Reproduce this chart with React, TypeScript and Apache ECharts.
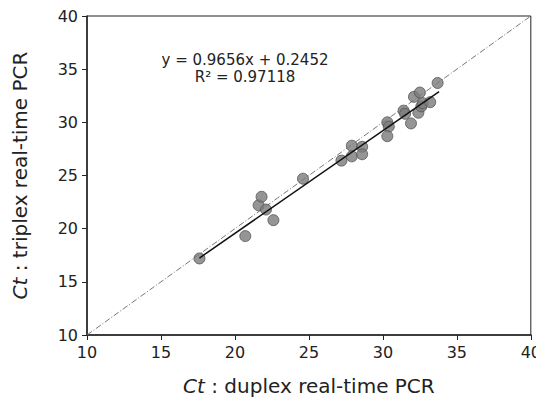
import React, { useEffect, useRef } from "react";
import * as echarts from "echarts";

const duplexCt = [17.6, 20.7, 21.6, 21.8, 22.1, 22.6, 24.6, 27.2, 27.9, 27.9, 28.6, 28.6, 30.3, 30.4, 30.3, 31.4, 31.5, 31.9, 32.1, 32.5, 32.4, 32.6, 32.7, 33.2, 33.7];
const triplexCt = [17.2, 19.3, 22.2, 23.0, 21.8, 20.8, 24.7, 26.4, 27.8, 26.8, 27.7, 27.0, 30.0, 29.6, 28.7, 31.1, 30.8, 29.9, 32.4, 32.8, 30.9, 31.5, 31.8, 31.9, 33.7];
const trendX = [17.6, 33.8];
const trendY = [17.24, 32.88];
const diagX = [10, 40];
const diagY = [10, 40];
const tickValues = [10, 15, 20, 25, 30, 35, 40];
const equationLines = ["y = 0.9656x + 0.2452", "R² = 0.97118"];

export default function App() {
  const ref = useRef<HTMLDivElement>(null);
  useEffect(() => {
    if (!ref.current) return;
    const chart = echarts.init(ref.current, null, { renderer: "svg" });
    const font = "'DejaVu Sans', 'Noto Sans', sans-serif";
    chart.setOption({
      animation: false,
      textStyle: { fontFamily: font },
      grid: { left: 87, right: 11, top: 16, bottom: 75, show: true, borderColor: "#222", borderWidth: 1 },
      xAxis: {
        type: "value",
        min: tickValues[0],
        max: tickValues[tickValues.length - 1],
        interval: 5,
        axisLine: { show: true, lineStyle: { color: "#222", width: 1.5 } },
        axisTick: { show: true, length: 5, lineStyle: { color: "#222" } },
        splitLine: { show: false },
        axisLabel: { color: "#222", fontSize: 16, margin: 9, fontFamily: font },
        name: "{i|Ct} : duplex real-time PCR",
        nameLocation: "middle",
        nameGap: 41,
        nameTextStyle: {
          color: "#222",
          fontSize: 20,
          fontFamily: font,
          rich: { i: { fontStyle: "italic", fontSize: 20, fontFamily: font, color: "#222" } },
        },
      },
      yAxis: {
        type: "value",
        min: tickValues[0],
        max: tickValues[tickValues.length - 1],
        interval: 5,
        axisLine: { show: true, lineStyle: { color: "#222", width: 1.5 } },
        axisTick: { show: true, length: 5, lineStyle: { color: "#222" } },
        splitLine: { show: false },
        axisLabel: { color: "#222", fontSize: 16, margin: 9, fontFamily: font },
        name: "{i|Ct} : triplex real-time PCR",
        nameLocation: "middle",
        nameGap: 57,
        nameTextStyle: {
          color: "#222",
          fontSize: 20,
          fontFamily: font,
          rich: { i: { fontStyle: "italic", fontSize: 20, fontFamily: font, color: "#222" } },
        },
      },
      graphic: [
        {
          type: "text",
          x: 245,
          y: 60,
          style: { text: equationLines[0], fontSize: 15, fontFamily: font, fill: "#222", align: "center", verticalAlign: "middle" },
        },
        {
          type: "text",
          x: 245,
          y: 77,
          style: { text: equationLines[1], fontSize: 15, fontFamily: font, fill: "#222", align: "center", verticalAlign: "middle" },
        },
      ],
      series: [
        {
          type: "line",
          data: diagX.map((x, i) => [x, diagY[i]]),
          showSymbol: false,
          symbol: "none",
          lineStyle: { color: "#777", width: 1, type: [6, 2, 1, 2] },
          z: 1,
        },
        {
          type: "line",
          data: trendX.map((x, i) => [x, trendY[i]]),
          showSymbol: false,
          symbol: "none",
          lineStyle: { color: "#111", width: 1.5 },
          z: 3,
        },
        {
          type: "scatter",
          data: duplexCt.map((x, i) => [x, triplexCt[i]]),
          symbol: "circle",
          symbolSize: 11,
          itemStyle: { color: "#7a7a7a", borderColor: "#555", borderWidth: 1 },
          z: 2,
        },
      ],
    });
    return () => chart.dispose();
  }, []);
  return <div ref={ref} style={{ width: 544, height: 410, margin: -8 }} />;
}
